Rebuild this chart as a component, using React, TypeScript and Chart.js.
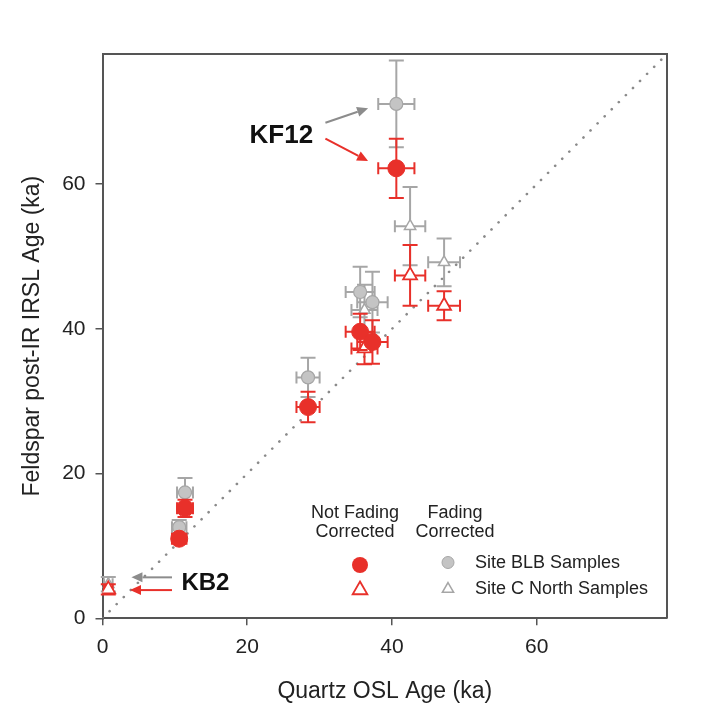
import React, { useEffect, useRef } from "react";
import { Chart, registerables } from "chart.js";

Chart.register(...registerables);

// ---------- data ----------
const xTicks = [0, 20, 40, 60];
const yTicks = [0, 20, 40, 60];
const axisMin = 0;
const axisMax = 78;

// Site BLB samples (circles)
const blbQuartz = [40.6, 35.6, 37.3, 28.4, 11.4, 10.6];
const blbQuartzErr = [2.5, 2.0, 2.1, 1.6, 1.1, 1.0];
const blbNotCorrected = [62.2, 39.6, 38.2, 29.2, 15.2, 11.0];
const blbNotCorrectedErr = [4.1, 2.5, 3.0, 2.1, 1.2, 0.7];
const blbCorrected = [71.1, 45.1, 43.7, 33.3, 17.4, 12.6];
const blbCorrectedErr = [6.0, 3.5, 4.2, 2.7, 2.0, 1.0];

// Site C North samples (triangles)
const cnQuartz = [42.5, 47.2, 36.2, 0.8];
const cnQuartzErr = [2.1, 2.2, 1.8, 0.6];
const cnNotCorrected = [47.4, 43.2, 37.3, 4.0];
const cnNotCorrectedErr = [4.2, 2.0, 2.2, 0.7];
const cnCorrected = [54.2, 49.2, 42.6, 4.7];
const cnCorrectedErr = [5.4, 3.3, 3.5, 1.0];

// 1:1 line
const oneToOneX = [0, 78];

// annotations (data coordinates)
const arrowFromX = [30.8, 30.8, 9.6, 9.6];
const arrowFromY = [68.5, 66.3, 5.66, 3.9];
const arrowToX = [36.7, 36.7, 4.0, 3.8];
const arrowToY = [70.5, 63.2, 5.66, 3.9];
const arrowKinds = ["grey", "red", "grey", "red"];
const labelTexts = ["KF12", "KB2"];
const labelX = [29.1, 10.9];
const labelY = [66.7, 4.85];
const labelSizes = [26, 24];

// ---------- styles ----------
const RED = "#e8302a";
const GREY_FILL = "#c4c4c4";
const GREY_LINE = "#a6a6a6";
const GREY_ARROW = "#8c8c8c";
const AXIS = "#555555";
const TEXT = "#222222";
const FONT = "'Liberation Sans', Arial, Helvetica, sans-serif";

const pts = (xs: number[], ys: number[]) => xs.map((x, i) => ({ x, y: ys[i] }));

const errorSpecs: Record<number, { xErr: number[]; yErr: number[]; color: string }> = {
  0: { xErr: blbQuartzErr, yErr: blbNotCorrectedErr, color: RED },
  1: { xErr: cnQuartzErr, yErr: cnNotCorrectedErr, color: RED },
  2: { xErr: blbQuartzErr, yErr: blbCorrectedErr, color: GREY_LINE },
  3: { xErr: cnQuartzErr, yErr: cnCorrectedErr, color: GREY_LINE },
};

const errorBarPlugin = {
  id: "errorBars",
  beforeDatasetDraw(chart: any, args: any) {
    const spec = errorSpecs[args.index];
    if (!spec) return;
    const ctx = chart.ctx;
    const xs = chart.scales.x;
    const ys = chart.scales.y;
    const data = chart.data.datasets[args.index].data as { x: number; y: number }[];
    ctx.save();
    ctx.strokeStyle = spec.color;
    ctx.lineWidth = 2;
    ctx.lineCap = "butt";
    data.forEach((p, i) => {
      const px = xs.getPixelForValue(p.x);
      const py = ys.getPixelForValue(p.y);
      const xl = xs.getPixelForValue(p.x - spec.xErr[i]);
      const xr = xs.getPixelForValue(p.x + spec.xErr[i]);
      const yt = ys.getPixelForValue(p.y + spec.yErr[i]);
      const yb = ys.getPixelForValue(p.y - spec.yErr[i]);
      const capH = 6;
      const capW = 7.5;
      ctx.beginPath();
      ctx.moveTo(xl, py);
      ctx.lineTo(xr, py);
      ctx.moveTo(xl, py - capH);
      ctx.lineTo(xl, py + capH);
      ctx.moveTo(xr, py - capH);
      ctx.lineTo(xr, py + capH);
      ctx.moveTo(px, yt);
      ctx.lineTo(px, yb);
      ctx.moveTo(px - capW, yt);
      ctx.lineTo(px + capW, yt);
      ctx.moveTo(px - capW, yb);
      ctx.lineTo(px + capW, yb);
      ctx.stroke();
    });
    ctx.restore();
  },
};

function drawTriangle(ctx: CanvasRenderingContext2D, x: number, y: number, r: number) {
  ctx.beginPath();
  for (let k = 0; k < 3; k++) {
    const a = (k * 2 * Math.PI) / 3;
    const vx = x + Math.sin(a) * r;
    const vy = y - Math.cos(a) * r;
    if (k === 0) ctx.moveTo(vx, vy);
    else ctx.lineTo(vx, vy);
  }
  ctx.closePath();
}

const frameAndNotesPlugin = {
  id: "frameAndNotes",
  afterDraw(chart: any) {
    const ctx: CanvasRenderingContext2D = chart.ctx;
    const a = chart.chartArea;
    const xs = chart.scales.x;
    const ys = chart.scales.y;
    ctx.save();
    // frame (top & right)
    ctx.strokeStyle = AXIS;
    ctx.lineWidth = 2;
    ctx.beginPath();
    ctx.moveTo(a.left, a.top);
    ctx.lineTo(a.right, a.top);
    ctx.lineTo(a.right, a.bottom);
    ctx.stroke();

    // arrows
    arrowFromX.forEach((fx, i) => {
      const x0 = xs.getPixelForValue(fx);
      const y0 = ys.getPixelForValue(arrowFromY[i]);
      const x1 = xs.getPixelForValue(arrowToX[i]);
      const y1 = ys.getPixelForValue(arrowToY[i]);
      const col = arrowKinds[i] === "red" ? RED : GREY_ARROW;
      const ang = Math.atan2(y1 - y0, x1 - x0);
      const hl = 11;
      const hw = 5;
      const bx = x1 - Math.cos(ang) * hl;
      const by = y1 - Math.sin(ang) * hl;
      ctx.strokeStyle = col;
      ctx.fillStyle = col;
      ctx.lineWidth = 2;
      ctx.beginPath();
      ctx.moveTo(x0, y0);
      ctx.lineTo(bx, by);
      ctx.stroke();
      ctx.beginPath();
      ctx.moveTo(x1, y1);
      ctx.lineTo(bx - Math.sin(ang) * hw, by + Math.cos(ang) * hw);
      ctx.lineTo(bx + Math.sin(ang) * hw, by - Math.cos(ang) * hw);
      ctx.closePath();
      ctx.fill();
    });

    // labels
    ctx.fillStyle = "#111111";
    ctx.textBaseline = "middle";
    labelTexts.forEach((t, i) => {
      ctx.font = `bold ${labelSizes[i]}px ${FONT}`;
      ctx.textAlign = i === 0 ? "right" : "left";
      ctx.fillText(t, xs.getPixelForValue(labelX[i]), ys.getPixelForValue(labelY[i]));
    });

    // legend
    ctx.fillStyle = TEXT;
    ctx.font = `18px ${FONT}`;
    ctx.textAlign = "center";
    ctx.fillText("Not Fading", 355, 513);
    ctx.fillText("Corrected", 355, 532);
    ctx.fillText("Fading", 455, 513);
    ctx.fillText("Corrected", 455, 532);

    ctx.fillStyle = RED;
    ctx.beginPath();
    ctx.arc(360, 565, 8, 0, Math.PI * 2);
    ctx.fill();
    ctx.strokeStyle = RED;
    ctx.lineWidth = 1.8;
    drawTriangle(ctx, 360, 590, 8.5);
    ctx.fillStyle = "#ffffff";
    ctx.fill();
    ctx.stroke();

    ctx.fillStyle = GREY_FILL;
    ctx.strokeStyle = GREY_LINE;
    ctx.lineWidth = 1;
    ctx.beginPath();
    ctx.arc(448, 562.5, 6, 0, Math.PI * 2);
    ctx.fill();
    ctx.stroke();
    ctx.lineWidth = 1.5;
    drawTriangle(ctx, 448, 589, 6.5);
    ctx.fillStyle = "#ffffff";
    ctx.fill();
    ctx.stroke();

    ctx.fillStyle = TEXT;
    ctx.textAlign = "left";
    ctx.fillText("Site BLB Samples", 475, 563);
    ctx.fillText("Site C North Samples", 475, 589);
    ctx.restore();
  },
};

export default function App() {
  const canvasRef = useRef<HTMLCanvasElement | null>(null);

  useEffect(() => {
    if (!canvasRef.current) return;
    const chart = new Chart(canvasRef.current, {
      type: "scatter",
      data: {
        datasets: [
          {
            label: "BLB not fading corrected",
            data: pts(blbQuartz, blbNotCorrected),
            pointStyle: "circle",
            pointRadius: 8.5,
            backgroundColor: RED,
            borderColor: RED,
            borderWidth: 1,
          },
          {
            label: "C North not fading corrected",
            data: pts(cnQuartz, cnNotCorrected),
            pointStyle: "triangle",
            pointRadius: 8,
            backgroundColor: "#ffffff",
            borderColor: RED,
            borderWidth: 1.8,
          },
          {
            label: "BLB fading corrected",
            data: pts(blbQuartz, blbCorrected),
            pointStyle: "circle",
            pointRadius: 6.5,
            backgroundColor: GREY_FILL,
            borderColor: GREY_LINE,
            borderWidth: 1.2,
          },
          {
            label: "C North fading corrected",
            data: pts(cnQuartz, cnCorrected),
            pointStyle: "triangle",
            pointRadius: 6.5,
            backgroundColor: "#ffffff",
            borderColor: GREY_LINE,
            borderWidth: 1.5,
          },
          {
            label: "1:1",
            data: pts(oneToOneX, oneToOneX),
            showLine: true,
            pointRadius: 0,
            borderColor: "#8a8a8a",
            borderWidth: 2.6,
            borderDash: [0.1, 9.9],
            borderCapStyle: "round",
            fill: false,
          } as any,
        ],
      },
      options: {
        responsive: false,
        animation: false,
        events: [],
        layout: { padding: { top: 54, right: 57, bottom: 0, left: 0 } },
        plugins: {
          legend: { display: false },
          tooltip: { enabled: false },
        },
        scales: {
          x: {
            type: "linear",
            min: axisMin,
            max: axisMax,
            afterBuildTicks: (s: any) => {
              s.ticks = xTicks.map((v) => ({ value: v }));
            },
            afterFit: (s: any) => {
              s.height = 92.7;
            },
            ticks: {
              color: TEXT,
              font: { size: 21, family: FONT },
              padding: 9,
              maxRotation: 0,
            },
            grid: {
              drawOnChartArea: false,
              drawTicks: true,
              tickLength: 7,
              color: AXIS,
              lineWidth: 1.5,
            },
            border: { display: true, color: AXIS, width: 2 },
            title: {
              display: true,
              text: "Quartz OSL Age (ka)",
              color: TEXT,
              font: { size: 23, family: FONT },
              padding: { top: 0, bottom: 6 },
            },
          },
          y: {
            type: "linear",
            min: axisMin,
            max: axisMax,
            afterBuildTicks: (s: any) => {
              s.ticks = yTicks.map((v) => ({ value: v }));
            },
            afterFit: (s: any) => {
              s.width = 102.5;
            },
            ticks: {
              color: TEXT,
              font: { size: 21, family: FONT },
              padding: 10,
            },
            grid: {
              drawOnChartArea: false,
              drawTicks: true,
              tickLength: 7,
              color: AXIS,
              lineWidth: 1.5,
            },
            border: { display: true, color: AXIS, width: 2 },
            title: {
              display: true,
              text: "Feldspar post-IR IRSL Age (ka)",
              color: TEXT,
              font: { size: 23, family: FONT },
              padding: { top: 19, bottom: 0 },
            },
          },
        },
      },
      plugins: [errorBarPlugin, frameAndNotesPlugin],
    });
    return () => chart.destroy();
  }, []);

  return (
    <div style={{ position: "fixed", left: 0, top: 0, width: 724, height: 711, background: "#ffffff" }}>
      <canvas ref={canvasRef} width={724} height={711} style={{ width: 724, height: 711, display: "block" }} />
    </div>
  );
}
